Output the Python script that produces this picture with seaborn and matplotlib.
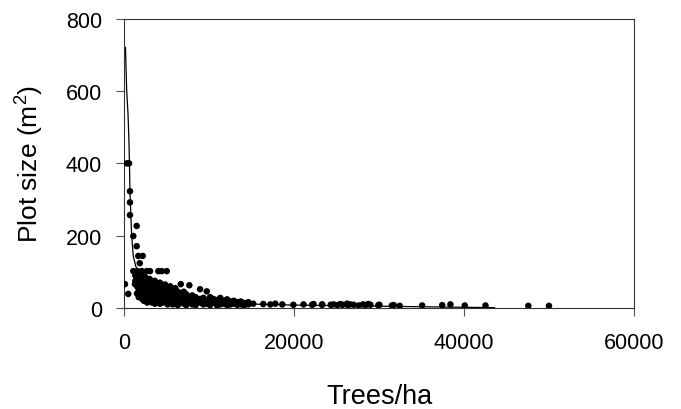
import matplotlib
matplotlib.use("Agg")
import matplotlib.pyplot as plt
import seaborn as sns
import pandas as pd

# Puntos observados (arboles/ha vs tamano de parcela)
trees_ha = [
    80, 470, 300, 560, 670, 670, 670, 1460, 1060, 1460, 1650, 2170, 1820,
    1060, 1530, 2050, 2640, 3030, 4010, 4410, 5000, 1260,
    1300, 1300, 1500, 1500, 1500, 1700, 1700, 1700, 1700,
    1900, 1900, 1900, 1900, 2100, 2100, 2100, 2100,
    2300, 2300, 2300, 2300, 2500, 2500, 2500,
    2700, 2700, 2700, 2700, 2700, 3000, 3000, 3000, 3000,
    3300, 3300, 3300, 3300, 3300, 3600, 3600, 3600, 3600,
    3900, 3900, 3900, 3900, 4200, 4200, 4200, 4200,
    4500, 4500, 4500, 4500, 4800, 4800, 4800,
    5100, 5100, 5100, 5100, 5400, 5400, 5400,
    5700, 5700, 5700, 5700, 6000, 6000, 6000,
    6300, 6300, 6300, 6300, 6650, 6650, 6650,
    7000, 7000, 7000, 7300, 7300, 7300, 7300,
    7660, 7660, 7660, 8000, 8000, 8000, 8400, 8400, 8400,
    8920, 8920, 8920, 9300, 9300, 9300, 9710, 9710, 9710,
    10100, 10100, 10100, 10500, 10500, 10900, 10900, 10900,
    11300, 11300, 11300, 11700, 11700, 12100, 12100, 12100,
    12500, 12500, 12900, 12900, 13300, 13300, 13700, 13700,
    14100, 14100, 14600, 14600,
    15180, 16360, 17190, 17780, 18600, 19900, 21100, 22100, 22280,
    23270, 23300, 24300, 24640, 25100, 25430, 25700, 26220, 26300,
    26600, 27000, 27590, 28100, 28380, 28700, 28970, 29900, 30030,
    31500, 31720, 32420, 35060, 37420, 38390, 40080, 42520, 47560, 49990,
]
plot_size = [
    66, 39, 400, 400, 323, 292, 257, 227, 199, 171, 144, 144, 124,
    102, 102, 102, 102, 102, 102, 102, 102, 66,
    90, 75, 85, 60, 40, 95, 70, 50, 30,
    80, 65, 45, 35, 90, 75, 55, 25,
    70, 60, 40, 20, 85, 50, 30,
    75, 65, 45, 25, 15, 80, 55, 35, 20,
    70, 60, 40, 25, 15, 75, 50, 30, 12,
    65, 45, 35, 20, 70, 55, 25, 12,
    60, 40, 30, 15, 65, 50, 20,
    55, 35, 25, 10, 60, 45, 15,
    50, 30, 20, 10, 55, 40, 25,
    45, 30, 15, 8, 66, 40, 20,
    45, 30, 12, 38, 25, 15, 8,
    63, 30, 20, 35, 22, 10, 30, 18, 8,
    52, 25, 15, 28, 18, 10, 46, 22, 12,
    30, 20, 8, 25, 15, 22, 12, 8,
    28, 18, 10, 20, 12, 24, 15, 8,
    18, 10, 20, 12, 16, 9, 18, 10,
    14, 8, 16, 10,
    12, 11, 10, 12, 10, 9, 10, 9, 11,
    9, 10, 9, 10, 8, 11, 9, 12, 8,
    10, 9, 7, 10, 8, 11, 9, 8, 9,
    7, 8, 6, 7, 8, 10, 7, 7, 6, 6,
]

# Curva ajustada
fit_x = [140, 280, 440, 550, 610, 670, 870, 1060, 1340, 1500, 2000, 3000,
         5000, 7500, 10000, 15000, 20000, 30000, 43600]
fit_y = [721, 602, 536, 461, 400, 320, 199, 144, 116, 108, 80, 55,
         35, 24, 18, 11, 8, 5, 1]

df_pts = pd.DataFrame({"trees": trees_ha, "size": plot_size})
df_fit = pd.DataFrame({"trees": fit_x, "size": fit_y})

sns.set_style("white")
plt.rcParams["font.family"] = ["Liberation Sans", "DejaVu Sans"]
plt.rcParams["mathtext.fontset"] = "custom"
plt.rcParams["mathtext.rm"] = "Liberation Sans"
plt.rcParams["mathtext.default"] = "rm"
plt.rcParams["text.color"] = "black"
plt.rcParams["axes.labelcolor"] = "black"
plt.rcParams["xtick.color"] = "black"
plt.rcParams["ytick.color"] = "black"

fig = plt.figure(figsize=(6.81, 4.10), dpi=100)
ax = fig.add_axes([0.1825, 0.2463, 0.7485, 0.7057])

sns.lineplot(x="trees", y="size", data=df_fit, color="black", linewidth=0.9,
             ax=ax, estimator=None, sort=True)
sns.scatterplot(x="trees", y="size", data=df_pts, color="black", s=22,
                edgecolor="none", ax=ax, zorder=3)

ax.set_xlim(0, 60000)
ax.set_ylim(0, 800)
ax.set_xticks([0, 20000, 40000, 60000])
ax.set_yticks([0, 200, 400, 600, 800])
ax.tick_params(axis="both", direction="out", length=6, width=0.8,
               color="#555555", labelsize=15.5, left=True, bottom=True)
ax.tick_params(axis="x", pad=11)
ax.tick_params(axis="y", pad=10)
for sp in ax.spines.values():
    sp.set_color("#333333")
    sp.set_linewidth(0.8)

ax.set_xlabel("Trees/ha", fontsize=19.5, labelpad=22)
ax.set_ylabel("Plot size (m$^2$)", fontsize=19, labelpad=14)

fig.savefig("out.png", dpi=100)
